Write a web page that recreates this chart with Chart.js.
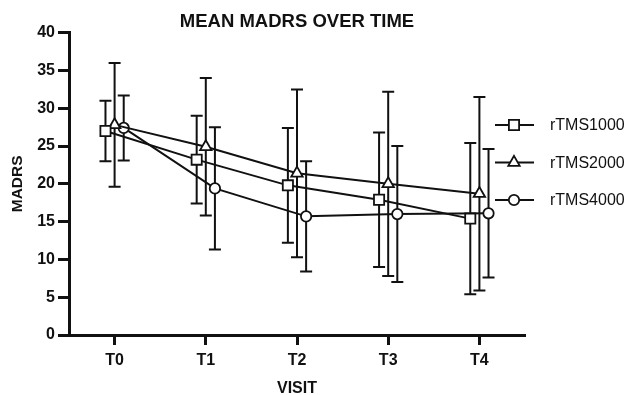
<!DOCTYPE html>
<html><head><meta charset="utf-8">
<script src="https://cdn.jsdelivr.net/npm/chart.js@4/dist/chart.umd.min.js"></script>
<style>html,body{margin:0;padding:0;background:#fff}#wrap{width:630px;height:395px}</style>
</head><body><div id="wrap"><canvas id="c" width="630" height="395"></canvas></div>
<script>
// ---- data ----
const categories = ['T0', 'T1', 'T2', 'T3', 'T4'];
const seriesNames = ['rTMS1000', 'rTMS2000', 'rTMS4000'];
const rtms1000Mean = [27.0, 23.2, 19.8, 17.9, 15.4];
const rtms1000Sd   = [4.0, 5.8, 7.6, 8.9, 10.0];
const rtms2000Mean = [27.8, 24.9, 21.4, 20.0, 18.7];
const rtms2000Sd   = [8.2, 9.1, 11.1, 12.2, 12.8];
const rtms4000Mean = [27.4, 19.4, 15.7, 16.0, 16.1];
const rtms4000Sd   = [4.3, 8.1, 7.3, 9.0, 8.5];
const yTicks = [0, 5, 10, 15, 20, 25, 30, 35, 40];

// ---- style ----
const ink = '#111';
const fam = "'Liberation Sans', Arial, sans-serif";
const means = [rtms1000Mean, rtms2000Mean, rtms4000Mean];
const sds = [rtms1000Sd, rtms2000Sd, rtms4000Sd];
const markerStyles = ['rect', 'triangle', 'circle'];
const markerRadius = [7.2, 6.6, 5.2];
const xShift = [-0.1, 0, 0.1];

const datasets = seriesNames.map((name, k) => ({
  label: name,
  data: means[k].map((v, i) => ({ x: i + xShift[k], y: v })),
  sd: sds[k],
  borderColor: ink, borderWidth: 2, backgroundColor: '#fff',
  pointStyle: markerStyles[k], pointRadius: markerRadius[k], pointHoverRadius: markerRadius[k],
  pointBorderWidth: 1.8, pointBackgroundColor: '#fff', pointBorderColor: ink,
  showLine: true, fill: false, tension: 0
}));

function drawMarker(ctx, style, r, x, y) {
  ctx.beginPath();
  if (style === 'rect') {
    const h = r * Math.SQRT1_2;
    ctx.rect(x - h, y - h, 2 * h, 2 * h);
  } else if (style === 'triangle') {
    ctx.moveTo(x, y - r);
    ctx.lineTo(x + 0.866 * r, y + r / 2);
    ctx.lineTo(x - 0.866 * r, y + r / 2);
    ctx.closePath();
  } else {
    ctx.arc(x, y, r, 0, Math.PI * 2);
  }
  ctx.fill(); ctx.stroke();
}

const errorBars = {
  id: 'errorBars',
  beforeDatasetsDraw(chart) {
    const { ctx, scales: { x, y } } = chart;
    ctx.save();
    ctx.strokeStyle = ink; ctx.lineWidth = 2;
    chart.data.datasets.forEach(ds => {
      ds.data.forEach((p, i) => {
        const px = x.getPixelForValue(p.x);
        const top = y.getPixelForValue(p.y + ds.sd[i]);
        const bot = y.getPixelForValue(p.y - ds.sd[i]);
        ctx.beginPath();
        ctx.moveTo(px, top); ctx.lineTo(px, bot);
        ctx.moveTo(px - 6, top); ctx.lineTo(px + 6, top);
        ctx.moveTo(px - 6, bot); ctx.lineTo(px + 6, bot);
        ctx.stroke();
      });
    });
    ctx.restore();
  }
};

const sideLegend = {
  id: 'sideLegend',
  afterDraw(chart) {
    const ctx = chart.ctx;
    const area = chart.chartArea;
    ctx.save();
    chart.data.datasets.forEach((ds, k) => {
      const yy = 125 + k * 37.5;
      const x0 = area.right - 30;
      ctx.strokeStyle = ink; ctx.lineWidth = 1.8;
      ctx.beginPath(); ctx.moveTo(x0, yy); ctx.lineTo(x0 + 39, yy); ctx.stroke();
      ctx.fillStyle = '#fff';
      drawMarker(ctx, ds.pointStyle, ds.pointRadius, x0 + 19, yy);
      ctx.fillStyle = ink;
      ctx.font = `16px ${fam}`;
      ctx.textAlign = 'left'; ctx.textBaseline = 'middle';
      ctx.fillText(ds.label, x0 + 55, yy + 1);
    });
    ctx.restore();
  }
};

new Chart(document.getElementById('c'), {
  type: 'line',
  data: { datasets },
  plugins: [errorBars, sideLegend],
  options: {
    responsive: false, animation: false, devicePixelRatio: 1,
    layout: { padding: { left: 0, right: 105, top: 0, bottom: 0 } },
    plugins: {
      legend: { display: false },
      tooltip: { enabled: false },
      title: {
        display: true, text: 'MEAN MADRS OVER TIME', color: ink, fullSize: false,
        font: { family: fam, size: 18.5, weight: 'bold', lineHeight: 1.2 },
        padding: { top: 10.5, bottom: 0 }
      }
    },
    scales: {
      x: {
        type: 'linear', min: -0.5, max: 4.5,
        afterBuildTicks: s => { s.ticks = categories.map((c, i) => ({ value: i })); },
        ticks: { callback: v => categories[v] ?? '', color: ink, font: { family: fam, size: 16, weight: 'bold' }, padding: 6, maxRotation: 0, autoSkip: false },
        grid: { display: true, drawOnChartArea: false, drawTicks: true, tickLength: 10, tickWidth: 3, tickColor: ink },
        border: { display: true, color: ink, width: 3 },
        title: { display: true, text: 'VISIT', color: ink, font: { family: fam, size: 16, weight: 'bold', lineHeight: 1 }, padding: { top: 0, bottom: -2 } },
        afterFit: s => { s.height = 60; }
      },
      y: {
        min: 0, max: 40,
        afterBuildTicks: s => { s.ticks = yTicks.map(v => ({ value: v })); },
        ticks: { color: ink, font: { family: fam, size: 16, weight: 'bold' }, padding: 3 },
        grid: { display: true, drawOnChartArea: false, drawTicks: true, tickLength: 11, tickWidth: 3, tickColor: ink },
        border: { display: true, color: ink, width: 3 },
        title: { display: true, text: 'MADRS', color: ink, font: { family: fam, size: 15.5, weight: 'bold', lineHeight: 1.2 }, padding: { top: 8, bottom: 0 } },
        afterFit: s => { s.width = 69; }
      }
    }
  }
});
</script>
</body></html>
